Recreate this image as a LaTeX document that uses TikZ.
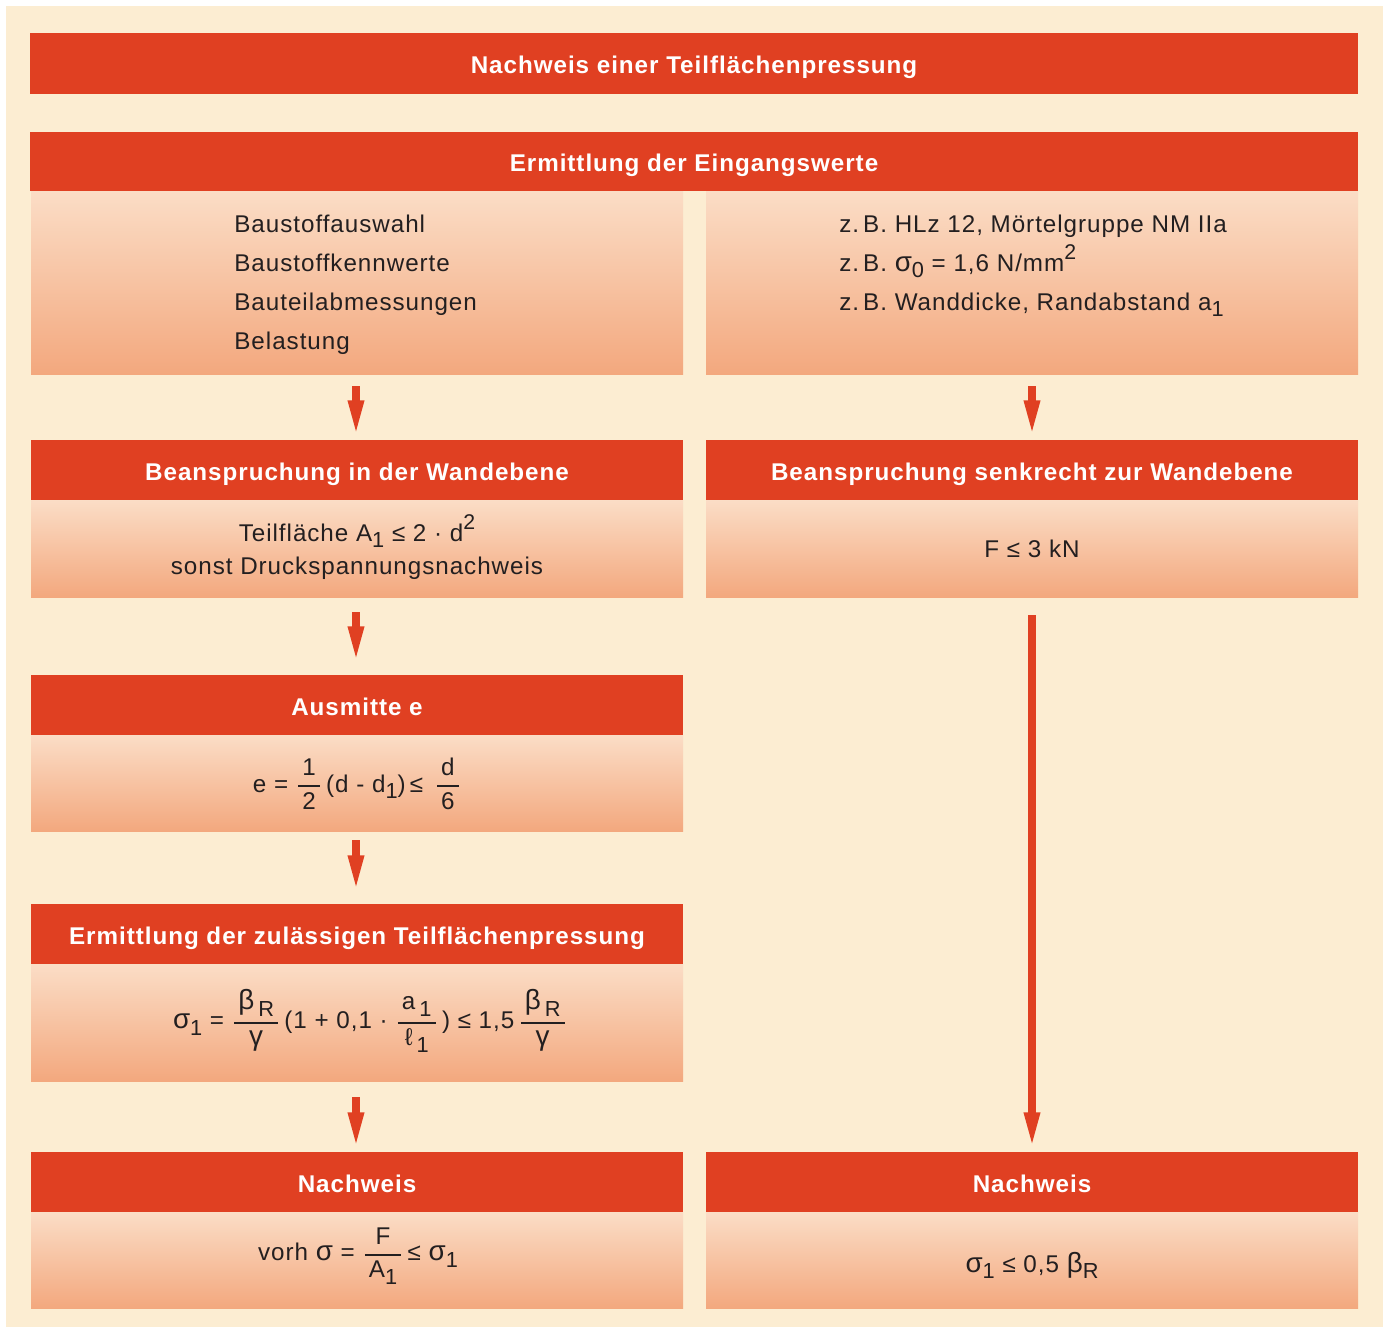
\documentclass[tikz,border=0pt]{standalone}
\usepackage{fontspec}
\usepackage{amsmath}
\usepackage{graphicx}
\setmainfont{Liberation Sans}[LetterSpace=4]
\usetikzlibrary{arrows.meta}

\definecolor{pagebg}{RGB}{252,237,210}
\definecolor{barred}{RGB}{224,64,34}
\definecolor{peachtop}{RGB}{251,221,198}
\definecolor{peachbot}{RGB}{243,168,126}
\definecolor{ink}{RGB}{35,31,32}

\newcommand\hdfont{\bfseries\fontsize{12.1pt}{14pt}\selectfont}
\newcommand\txtfont{\fontsize{12.1pt}{14pt}\selectfont}
% lowered / raised indices
\newcommand\lo[1]{\raisebox{-0.5ex}{\scalebox{0.9}{#1}}}
\newcommand\hi[1]{\raisebox{0.9ex}{\scalebox{0.88}{#1}}}
% slightly enlarged Greek letters
\newcommand\gk[1]{\scalebox{1.15}{#1}}
% fraction set in the text font
\newcommand\fr[2]{\ensuremath{\genfrac{}{}{0.9pt}{0}{\hbox{\,#1\,}}{\hbox{\,#2\,}}}}

\begin{document}
\begin{tikzpicture}[x=0.5pt,y=-0.5pt,
  bar/.style={fill=barred, inner sep=0pt, outer sep=0pt, text=white,
    font=\hdfont, text height=10.1pt, text depth=0pt, minimum height=30pt},
  panel/.style={top color=peachtop, bottom color=peachbot, draw=none,
    inner sep=0pt, outer sep=0pt},
  col/.style={minimum width=326pt},
  txt/.style={text=ink, font=\txtfont, inner sep=0pt},
  flow/.style={draw=barred, line width=4pt,
    -{Triangle[width=7pt,length=19pt]}}]

\fill[white] (0,0) rectangle (1390,1327);
\useasboundingbox (0,0) rectangle (1390,1327);
\fill[pagebg] (6,6) rectangle (1383,1327);

% title and input header
\node[bar, minimum width=664pt, minimum height=30.5pt] (title) at (694,63.5) {Nachweis einer Teilflächenpressung};
\node[bar, minimum width=664pt, minimum height=29.5pt] (hin) at (694,161.5) {Ermittlung der Eingangswerte};

% input panels
\node[panel, col, minimum height=91.5pt] (inL) at (357,282.5) {};
\node[panel, col, minimum height=91.5pt] (inR) at (1032,282.5) {};
\node[txt, anchor=base west] (inL1) at (234,232) {Baustoffauswahl};
\node[txt, anchor=base west] (inL2) at (234,271) {Baustoffkennwerte};
\node[txt, anchor=base west] (inL3) at (234,310) {Bauteilabmessungen};
\node[txt, anchor=base west] (inL4) at (234,349) {Belastung};
\node[txt, anchor=base west] (inR1) at (839,232) {z.\,B. HLz 12, Mörtelgruppe NM IIa};
\node[txt, anchor=base west] (inR2) at (839,271) {z.\,B. \gk{σ}\lo{0} = 1,6 N/mm\hi{2}};
\node[txt, anchor=base west] (inR3) at (839,310) {z.\,B. Wanddicke, Randabstand a\lo{1}};

% load in the wall plane
\node[bar, col] (hinPl) at (357,470) {Beanspruchung in der Wandebene};
\node[panel, col, minimum height=48.5pt] (inPl) at (357,548.5) {};
\node[txt, anchor=base] (inPl1) at (357,541) {Teilfläche A\lo{1} ≤ 2 · d\hi{2}};
\node[txt, anchor=base] (inPl2) at (357,574) {sonst Druckspannungsnachweis};

% load perpendicular to the wall plane
\node[bar, col] (hperp) at (1032,470) {Beanspruchung senkrecht zur Wandebene};
\node[panel, col, minimum height=48.5pt] (perp) at (1032,548.5) {};
\node[txt, anchor=base] (perp1) at (1032,557) {F ≤ 3 kN};

% eccentricity
\node[bar, col] (hecc) at (357,705) {Ausmitte e};
\node[panel, col, minimum height=48pt] (ecc) at (357,783) {};
\node[txt] (ecc1) at (357,784) {e = \fr{1}{2}\,(d - d\lo{1})\,≤ \,\fr{d}{6}};

% permissible partial area pressure
\node[bar, col] (hperm) at (357,934) {Ermittlung der zulässigen Teilflächenpressung};
\node[panel, col, minimum height=58.5pt] (perm) at (357,1022.5) {};
\node[txt] (perm1) at (370,1021) {\gk{σ}\lo{1} = \fr{\gk{β}\,\lo{R}}{\gk{γ}}\,(1 + 0,1 · \fr{a\,\lo{1}}{ℓ\,\lo{1}}\,) ≤ 1,5\,\fr{\gk{β}\,\lo{R}}{\gk{γ}}};

% verification, left
\node[bar, col] (hchkL) at (357,1182) {Nachweis};
\node[panel, col, minimum height=48pt] (chkL) at (357,1260) {};
\node[txt] (chkL1) at (358,1256) {vorh \gk{σ} = \fr{F}{A\lo{1}}\,≤ \gk{σ}\lo{1}};

% verification, right
\node[bar, col] (hchkR) at (1032,1182) {Nachweis};
\node[panel, col, minimum height=48pt] (chkR) at (1032,1260) {};
\node[txt, anchor=base] (chkR1) at (1032,1272) {\gk{σ}\lo{1} ≤ 0,5 \gk{β}\lo{R}};

% flow arrows
\draw[flow, shorten <=6pt, shorten >=0.8pt] (inL.south -| 356,0) -- (hinPl.north -| 356,0);
\draw[flow, shorten <=6pt, shorten >=0.8pt] (inR.south) -- (hperp.north);
\draw[flow, shorten <=7.5pt, shorten >=5.3pt] (inPl.south -| 356,0) -- (hecc.north -| 356,0);
\draw[flow, shorten <=4.5pt, shorten >=5.3pt] (ecc.south -| 356,0) -- (hperm.north -| 356,0);
\draw[flow, shorten <=8pt, shorten >=0.8pt] (perm.south -| 356,0) -- (hchkL.north -| 356,0);
\draw[flow, shorten <=9pt, shorten >=0.8pt] (perp.south) -- (hchkR.north);
\end{tikzpicture}
\end{document}
